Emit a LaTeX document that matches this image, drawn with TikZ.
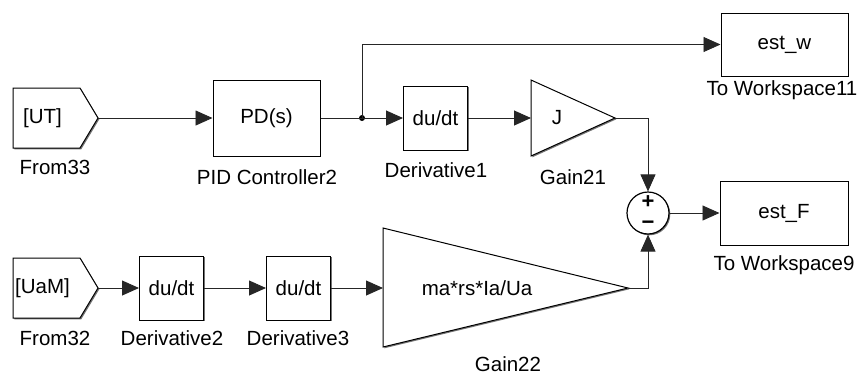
\documentclass[tikz,border=0pt]{standalone}
\usepackage{fontspec}
\setmainfont{Liberation Sans}
\usetikzlibrary{calc, positioning, arrows.meta, shadows}

\begin{document}
\begin{tikzpicture}[x=1pt, y=-1pt, font=\fontsize{20.5}{24}\selectfont,
	block/.style={draw, line width=1pt, fill=white, inner sep=0pt, minimum width=64pt, minimum height=64pt,
		drop shadow={shadow xshift=1.3pt, shadow yshift=-1.3pt, fill=black!55, opacity=1}},
	outline/.style={draw, line width=1pt, fill=white, line join=miter,
		drop shadow={shadow xshift=1.3pt, shadow yshift=-1.3pt, fill=black!55, opacity=1}},
	wire/.style={line width=0.9pt, draw=black!85, -{Triangle[length=17pt, width=15pt]}},
	plain/.style={line width=0.9pt, draw=black!85},
	caption/.style={inner sep=0pt}]
	
	\useasboundingbox (0,0) rectangle (862,376);
	
	% --- TOP ROW: FROM TAG, PID, DERIVATIVE, GAIN ---
	\draw[outline] (13,88) -- (80,88) -- (98,118) -- (80,148) -- (13,148) -- cycle;
	\node[caption] (From33) at (42.5,118) {[UT]};
	\coordinate (From33Tip) at (98,118);
	\node[caption] (From33Lbl) at (55,167) {From33};
	
	\node[block, minimum width=107pt, minimum height=76pt] (PIDCtrl) at (266.5,118) {PD(s)};
	\node[caption] (PIDLbl) at (267,177) {PID Controller2};
	
	\node[circle, fill=black, inner sep=0pt, minimum size=6pt] (Junction) at (362,118) {};
	
	\node[block] (Deriv1) at (435.5,118) {du/dt};
	\node[caption] (Deriv1Lbl) at (436,170) {Derivative1};
	
	\draw[outline] (531,80) -- (615,118) -- (531,156) -- cycle;
	\coordinate (Gain21In) at (531,118);
	\coordinate (Gain21Out) at (615,118);
	\node[caption] (Gain21) at (557,118) {J};
	\node[caption] (Gain21Lbl) at (573,177) {Gain21};
	
	% --- BOTTOM ROW: FROM TAG, TWO DERIVATIVES, GAIN ---
	\draw[outline] (13,258) -- (80,258) -- (98,288) -- (80,318) -- (13,318) -- cycle;
	\node[caption] (From32) at (42.5,288) {[UaM]};
	\coordinate (From32Tip) at (98,288);
	\node[caption] (From32Lbl) at (55,338) {From32};
	
	\node[block] (Deriv2) at (171.5,288) {du/dt};
	\node[caption] (Deriv2Lbl) at (172,338) {Derivative2};
	
	\node[block] (Deriv3) at (298.5,288) {du/dt};
	\node[caption] (Deriv3Lbl) at (298,338) {Derivative3};
	
	\draw[outline] (383,228) -- (628,288) -- (383,347) -- cycle;
	\coordinate (Gain22In) at (383,288);
	\coordinate (Gain22Out) at (628,288);
	\node[caption] (Gain22) at (477,288) {ma*rs*Ia/Ua};
	\node[caption] (Gain22Lbl) at (508,364) {Gain22};
	
	% --- SUM AND WORKSPACE OUTPUTS ---
	\node[circle, draw, line width=1.2pt, fill=white, minimum size=42pt, inner sep=0pt,
		drop shadow={shadow xshift=1.3pt, shadow yshift=-1.3pt, fill=black!55, opacity=1}] (SumF) at (648,213) {};
	\node[caption, font=\fontsize{22}{24}\selectfont\bfseries] (SumPlus) at (648,202) {+};
	\node[caption, font=\fontsize{22}{24}\selectfont\bfseries] (SumMinus) at (648,225) {\textminus};
	
	\node[block, minimum width=127pt, minimum height=63pt] (EstW) at (784.5,44.5) {est\_w};
	\node[caption] (EstWLbl) at (782,90) {To Workspace11};
	
	\node[block, minimum width=128pt, minimum height=64pt] (EstF) at (784,213) {est\_F};
	\node[caption] (EstFLbl) at (784,265) {To Workspace9};
	
	% --- SIGNAL LINES ---
	\draw[wire] (From33Tip) -- (PIDCtrl.west);
	\draw[plain] (PIDCtrl.east) -- (Junction.center);
	\draw[wire] (Junction.center) -- (Deriv1.west);
	\draw[wire] (Junction.center) |- (EstW.west);
	\draw[wire] (Deriv1.east) -- (Gain21In);
	\draw[wire] (Gain21Out) -| (SumF.north);
	
	\draw[wire] (From32Tip) -- (Deriv2.west);
	\draw[wire] (Deriv2.east) -- (Deriv3.west);
	\draw[wire] (Deriv3.east) -- (Gain22In);
	\draw[wire] (Gain22Out) -| (SumF.south);
	
	\draw[wire] (SumF.east) -- (EstF.west);
	
\end{tikzpicture}
\end{document}
